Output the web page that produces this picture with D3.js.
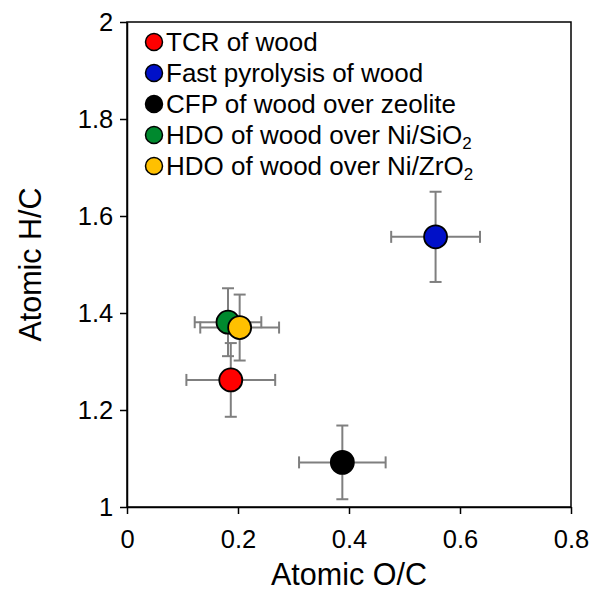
<!DOCTYPE html>
<html>
<head>
<meta charset="utf-8">
<script src="https://cdn.jsdelivr.net/npm/d3@7"></script>
<style>
  body { margin: 0; background: #fff; }
  text { font-family: "Liberation Sans", Arial, sans-serif; fill: #000; }
</style>
</head>
<body>
<div id="svg"></div>
<script>
let w = 592;
let h = 591;

// data
let names = ['TCR of wood', 'Fast pyrolysis of wood', 'CFP of wood over zeolite',
             'HDO of wood over Ni/SiO', 'HDO of wood over Ni/ZrO'];
let subs = ['', '', '', '2', '2'];
let colors = ['#ff0000', '#0010c8', '#000000', '#00892e', '#ffc000'];
let oc = [0.187, 0.556, 0.388, 0.182, 0.203];
let hc = [1.262, 1.557, 1.092, 1.381, 1.370];
let ocErr = [0.080, 0.080, 0.078, 0.060, 0.071];
let hcErr = [0.076, 0.093, 0.076, 0.070, 0.068];
let xTicks = [0, 0.2, 0.4, 0.6, 0.8];
let yTicks = [1, 1.2, 1.4, 1.6, 1.8, 2];

let pLeft = 127, pRight = 571, pTop = 22, pBottom = 507;

let svg = d3.select('#svg')
          .append('svg')
          .attr('width', w)
          .attr('height', h);

let xScale = d3.scaleLinear().domain([0, 0.8]).range([pLeft, pRight]);
let yScale = d3.scaleLinear().domain([1, 2]).range([pBottom, pTop]);

// frame
svg.append('rect')
   .attr('x', pLeft)
   .attr('y', pTop)
   .attr('width', pRight - pLeft)
   .attr('height', pBottom - pTop)
   .style('fill', 'none')
   .style('stroke', '#000')
   .style('stroke-width', 1.5);

let xAxis = d3.axisBottom(xScale).tickValues(xTicks).tickFormat(d3.format('')).tickSize(7).tickSizeOuter(0);
let yAxis = d3.axisLeft(yScale).tickValues(yTicks).tickFormat(d3.format('')).tickSize(7).tickSizeOuter(0);

let gx = svg.append('g')
  .attr('transform', 'translate(0,' + pBottom + ')')
  .call(xAxis);
gx.selectAll('text').style('font-size', '25.5px').attr('dy', '1.2em');

let gy = svg.append('g')
  .attr('transform', 'translate(' + pLeft + ',0)')
  .call(yAxis);
gy.selectAll('text').style('font-size', '25.5px').attr('dx', '-0.15em');

svg.selectAll('.domain, .tick line').style('stroke', '#000').style('stroke-width', 1.5);

// axis titles
svg.append('text')
   .text('Atomic O/C')
   .attr('x', (pLeft + pRight) / 2)
   .attr('y', 585)
   .attr('text-anchor', 'middle')
   .style('font-size', '30.5px');

svg.append('text')
   .text('Atomic H/C')
   .attr('transform', 'translate(41,' + (pTop + pBottom) / 2 + ') rotate(-90)')
   .attr('text-anchor', 'middle')
   .style('font-size', '30.5px');

// error bars
let eb = svg.append('g').style('stroke', '#7f7f7f').style('stroke-width', 2);
let cap = 6;
oc.forEach((d, i) => {
  let cx = xScale(d), cy = yScale(hc[i]);
  let x0 = xScale(d - ocErr[i]), x1 = xScale(d + ocErr[i]);
  let y0 = yScale(hc[i] - hcErr[i]), y1 = yScale(hc[i] + hcErr[i]);
  eb.append('line').attr('x1', x0).attr('x2', x1).attr('y1', cy).attr('y2', cy);
  eb.append('line').attr('x1', x0).attr('x2', x0).attr('y1', cy - cap).attr('y2', cy + cap);
  eb.append('line').attr('x1', x1).attr('x2', x1).attr('y1', cy - cap).attr('y2', cy + cap);
  eb.append('line').attr('x1', cx).attr('x2', cx).attr('y1', y0).attr('y2', y1);
  eb.append('line').attr('x1', cx - cap).attr('x2', cx + cap).attr('y1', y0).attr('y2', y0);
  eb.append('line').attr('x1', cx - cap).attr('x2', cx + cap).attr('y1', y1).attr('y2', y1);
});

// points
svg.selectAll('circle.dot')
   .data(oc)
   .enter()
   .append('circle')
   .attr('class', 'dot')
   .attr('cx', (d) => xScale(d))
   .attr('cy', (d, i) => yScale(hc[i]))
   .attr('r', 11.5)
   .style('fill', (d, i) => colors[i])
   .style('stroke', '#000')
   .style('stroke-width', 1.8);

//Legend
let lg = svg.append('g');
names.forEach((n, i) => {
  let y = 42 + i * 31;
  lg.append('circle')
    .attr('cx', 154)
    .attr('cy', y)
    .attr('r', 8.5)
    .style('fill', colors[i])
    .style('stroke', '#000')
    .style('stroke-width', 1.5);
  let t = lg.append('text')
    .attr('x', 166)
    .attr('y', y + 9)
    .style('font-size', '26px');
  t.append('tspan').text(n);
  if (subs[i]) {
    t.append('tspan').text(subs[i]).attr('dy', 5).style('font-size', '17px');
  }
});
</script>
</body>
</html>
